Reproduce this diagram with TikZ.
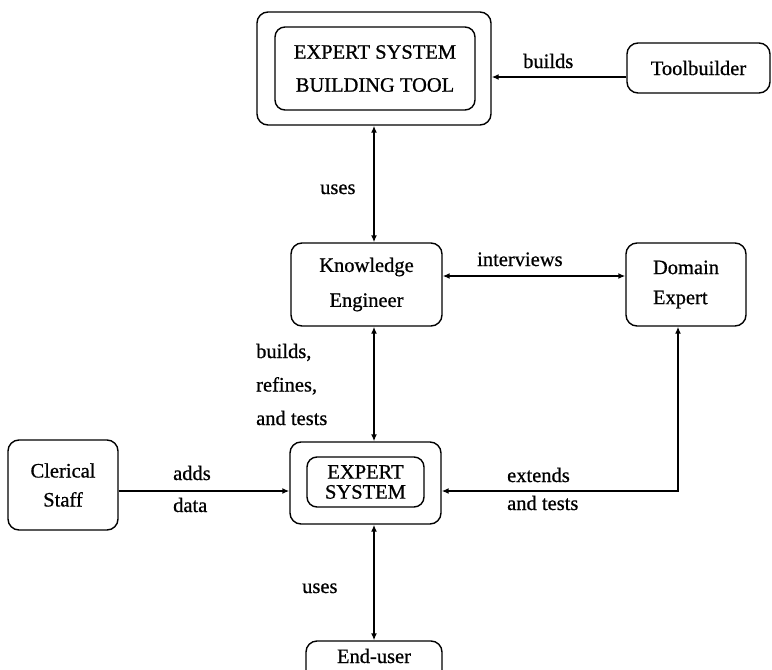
\documentclass[tikz,border=0pt]{standalone}
\usepackage{fontspec}
\setmainfont{Liberation Serif}[FakeBold=0.7]
\usetikzlibrary{arrows.meta}
% several left-aligned lines, baseline at the first line
\newcommand\stk[2]{{\fontsize{20.5}{#1}\selectfont\begin{tabular}[t]{@{}l@{}}#2\end{tabular}}}

\begin{document}
\begin{tikzpicture}[x=1pt,y=-1pt,
  >={Latex[length=7pt,width=6pt]},
  box/.style={draw, line width=1.4pt, rounded corners=11pt, inner sep=0pt, align=center},
  link/.style={line width=2pt},
  lbl/.style={inner sep=0pt, anchor=base west, font=\fontsize{20.5}{24}\selectfont}
]
\useasboundingbox (0,0) rectangle (772,670);
\clip (0,0) rectangle (772,670);
\fill[white] (0,0) rectangle (772,670);

% boxes
\node[box, minimum width=234pt, minimum height=113pt] (esto) at (374,68.5) {};
\node[box, rounded corners=10pt, minimum width=200pt, minimum height=83pt,
      font=\fontsize{20.5}{33}\selectfont] (esti) at (375,68.5) {EXPERT SYSTEM\\BUILDING TOOL};
\node[box, minimum width=143pt, minimum height=50pt,
      font=\fontsize{20.5}{24}\selectfont] (tb) at (698.5,68) {Toolbuilder};
\node[box, minimum width=151pt, minimum height=83pt,
      font=\fontsize{20.5}{35}\selectfont] (ke) at (366.5,284.5) {Knowledge\\Engineer};
\node[box, align=left, minimum width=120pt, minimum height=83pt,
      font=\fontsize{20.5}{30}\selectfont] (de) at (686,284.5) {Domain\\Expert};
\node[box, minimum width=151pt, minimum height=82pt] (eso) at (365.5,483) {};
\node[box, rounded corners=10pt, minimum width=117pt, minimum height=50pt,
      font=\fontsize{20.5}{20}\selectfont] (esi) at (365.5,482) {EXPERT\\SYSTEM};
\node[box, minimum width=110pt, minimum height=90pt,
      font=\fontsize{20.5}{29}\selectfont] (cs) at (63,485) {Clerical\\Staff};
\node[box, minimum width=136pt, minimum height=40pt, text height=14pt, text depth=10pt,
      font=\fontsize{20.5}{24}\selectfont] (eu) at (374,661) {End-user};

% connectors
\draw[link,->] ([yshift=-9pt]tb.west) -- ([yshift=-9pt]tb.west -| esto.east);
\draw[link,<->] (esto.south) -- (esto.south |- ke.north);
\draw[link,<->] ([yshift=8.5pt]ke.east) -- ([yshift=8.5pt]ke.east -| de.west);
\draw[link,<->] (ke.south -| esto.south) -- (eso.north -| esto.south);
\draw[link,->] ([yshift=-8pt]eso.west -| cs.east) -- ([yshift=-8pt]eso.west);
\draw[link,<->] ([xshift=-8pt]de.south) |- ([yshift=-8pt]eso.east);
\draw[link,<->] (eso.south -| eu.north) -- (eu.north);

% connector labels
\node[lbl] (lbuilds) at (523,68) {builds};
\node[lbl] (luses) at (320,194) {uses};
\node[lbl] (linter) at (477,266) {interviews};
\node[lbl] (lrefine) at (256,358) {\stk{33.5}{builds,\\refines,\\and tests}};
\node[lbl] (ladds) at (173,480) {\stk{32}{adds\\data}};
\node[lbl] (lext) at (507,482) {\stk{28}{extends\\and tests}};
\node[lbl] (luser) at (302,593) {uses};
\end{tikzpicture}
\end{document}
